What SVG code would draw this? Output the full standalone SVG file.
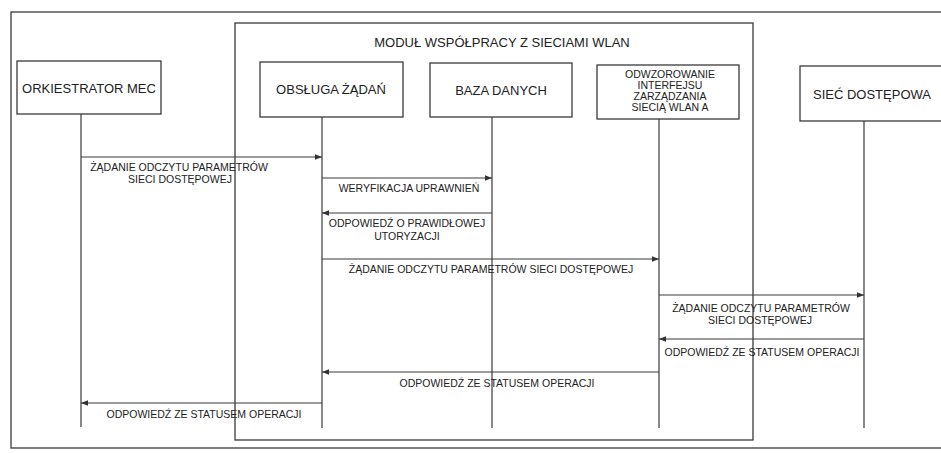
<svg xmlns="http://www.w3.org/2000/svg" width="941" height="453" viewBox="0 0 941 453">
<defs>
<style>
.frame{fill:none;stroke:#3a3a3a;stroke-width:1.3}
.box{fill:#fff;stroke:#3a3a3a;stroke-width:1.3}
.life{stroke:#3a3a3a;stroke-width:1.2;fill:none}
.msg{stroke:#3a3a3a;stroke-width:1.2;fill:none;marker-end:url(#ah)}
.t{font-family:"Liberation Sans",Arial,sans-serif;fill:#222;text-anchor:middle}
.nt{font-size:13px}
.st{font-size:10.5px}
</style>
<marker id="ah" viewBox="0 0 10 10" refX="10" refY="5" markerWidth="9" markerHeight="7" markerUnits="userSpaceOnUse" orient="auto">
<path d="M0,1 L10,5 L0,9 z" fill="#333"/>
</marker>
</defs>
<rect width="941" height="453" fill="#fff"/>
<rect class="frame" x="11" y="12" width="940" height="436"/>
<g id="module">
<rect class="frame" x="235" y="23" width="518" height="417"/>
<text class="t nt" x="502" y="47">MODUŁ WSPÓŁPRACY Z SIECIAMI WLAN</text>
</g>
<g id="connectors">
<line class="life" x1="81" y1="114" x2="81" y2="427"/>
<line class="life" x1="322" y1="117" x2="322" y2="428"/>
<line class="life" x1="492" y1="117" x2="492" y2="428"/>
<line class="life" x1="659" y1="119" x2="659" y2="428"/>
<line class="life" x1="864" y1="121" x2="864" y2="428"/>
<line class="msg" x1="81" y1="157" x2="322" y2="157"/>
<line class="msg" x1="322" y1="178" x2="492" y2="178"/>
<line class="msg" x1="492" y1="213" x2="322" y2="213"/>
<line class="msg" x1="322" y1="259" x2="659" y2="259"/>
<line class="msg" x1="659" y1="295" x2="864" y2="295"/>
<line class="msg" x1="864" y1="339" x2="659" y2="339"/>
<line class="msg" x1="659" y1="372" x2="322" y2="372"/>
<line class="msg" x1="322" y1="403" x2="81" y2="403"/>
<text class="t st" x="179" y="171">ŻĄDANIE ODCZYTU PARAMETRÓW</text>
<text class="t st" x="180" y="183">SIECI DOSTĘPOWEJ</text>
<text class="t st" x="409" y="192">WERYFIKACJA UPRAWNIEŃ</text>
<text class="t st" x="407" y="227">ODPOWIEDŹ O PRAWIDŁOWEJ</text>
<text class="t st" x="407" y="240">UTORYZACJI</text>
<text class="t st" x="491" y="273">ŻĄDANIE ODCZYTU PARAMETRÓW SIECI DOSTĘPOWEJ</text>
<text class="t st" x="761" y="312">ŻĄDANIE ODCZYTU PARAMETRÓW</text>
<text class="t st" x="760" y="324">SIECI DOSTĘPOWEJ</text>
<text class="t st" x="762" y="356">ODPOWIEDŹ ZE STATUSEM OPERACJI</text>
<text class="t st" x="497" y="387">ODPOWIEDŹ ZE STATUSEM OPERACJI</text>
<text class="t st" x="204" y="418">ODPOWIEDŹ ZE STATUSEM OPERACJI</text>
</g>
<g id="orkiestrator">
<rect class="box" x="17" y="61" width="144" height="53"/>
<text class="t nt" x="89" y="93">ORKIESTRATOR MEC</text>
</g>
<g id="obsluga">
<rect class="box" x="260" y="62" width="143" height="55"/>
<text class="t nt" x="331" y="94">OBSŁUGA ŻĄDAŃ</text>
</g>
<g id="baza">
<rect class="box" x="430" y="63" width="142" height="54"/>
<text class="t nt" x="501" y="95">BAZA DANYCH</text>
</g>
<g id="odwzorowanie">
<rect class="box" x="597" y="65" width="142" height="54"/>
<text class="t st" x="670" y="78">ODWZOROWANIE</text>
<text class="t st" x="670" y="89">INTERFEJSU</text>
<text class="t st" x="670" y="100">ZARZĄDZANIA</text>
<text class="t st" x="670" y="111">SIECIĄ WLAN A</text>
</g>
<g id="siec">
<rect class="box" x="800" y="66" width="145" height="55"/>
<text class="t nt" x="872" y="99">SIEĆ DOSTĘPOWA</text>
</g>
</svg>
